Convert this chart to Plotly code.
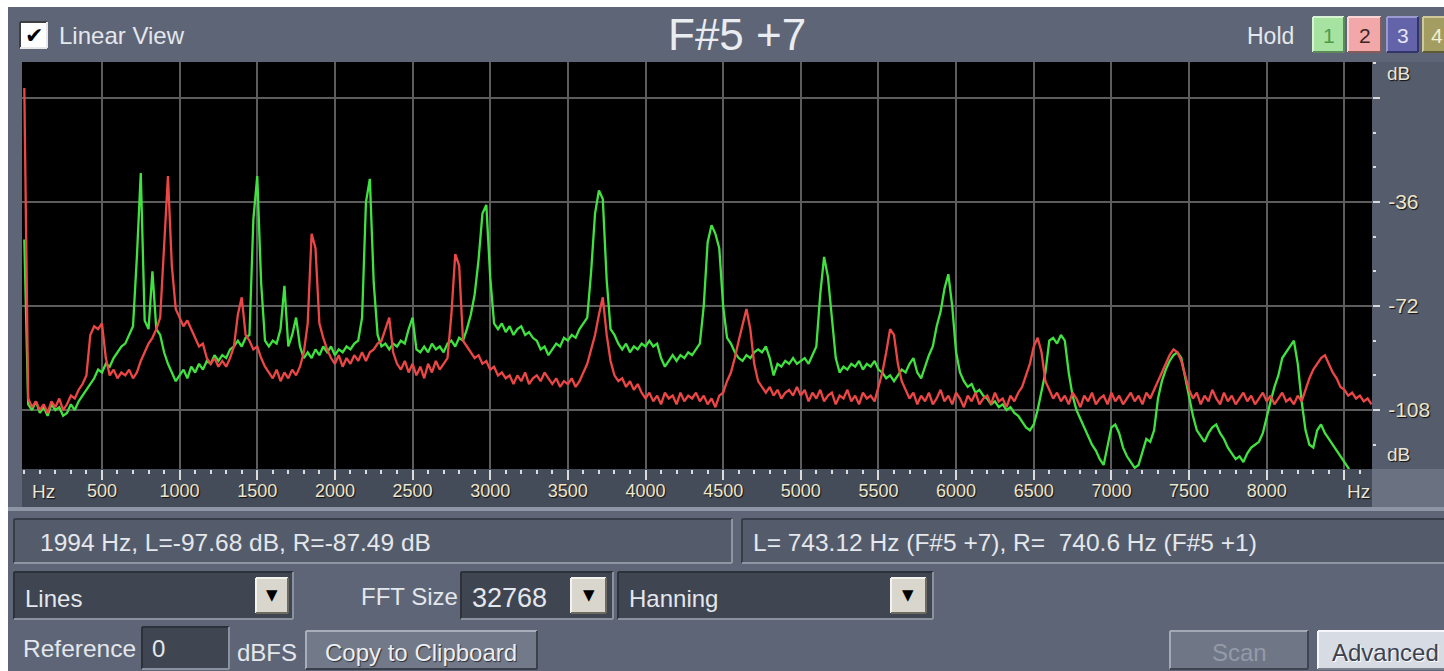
import numpy as np
import plotly.graph_objects as go

# ---------------------------------------------------------------------------
# Spectrum data: level in dB per 25 Hz bin, starting at 0 Hz
# ---------------------------------------------------------------------------
BIN_HZ = 25

left_db = [  # L channel (green)
    -49, -106, -108, -105, -109, -107, -110, -106, -108, -107, -110, -109, -106, -108, -105, -103, -101, -99, -97, -94,
    -95, -92, -93, -90, -88, -86, -85, -82, -79, -55, -26, -77, -80, -60, -80, -82, -88, -92, -95, -98,
    -96, -94, -97, -93, -95, -92, -94, -91, -92, -89, -91, -89, -90, -87, -86, -84, -86, -83, -82, -42,
    -27, -64, -84, -86, -84, -85, -80, -65, -86, -82, -76, -86, -90, -88, -90, -87, -89, -86, -88, -86,
    -89, -87, -88, -86, -87, -85, -84, -76, -36, -28, -64, -82, -86, -85, -87, -85, -86, -84, -85, -80,
    -76, -87, -88, -86, -88, -85, -87, -86, -88, -85, -84, -86, -83, -84, -80, -75, -68, -56, -40, -37,
    -62, -78, -80, -78, -81, -79, -82, -80, -79, -82, -81, -83, -84, -87, -86, -89, -87, -85, -86, -83,
    -84, -82, -83, -80, -78, -76, -60, -40, -32, -35, -63, -80, -82, -85, -87, -85, -88, -86, -87, -85,
    -86, -84, -86, -85, -90, -93, -91, -89, -91, -89, -90, -88, -89, -87, -85, -72, -50, -44, -47, -52,
    -72, -83, -85, -88, -90, -91, -89, -90, -88, -87, -88, -86, -90, -96, -92, -93, -91, -92, -90, -92,
    -91, -90, -92, -89, -86, -68, -55, -62, -75, -90, -95, -93, -94, -92, -93, -91, -94, -92, -93, -91,
    -94, -95, -97, -96, -98, -96, -94, -95, -92, -90, -95, -97, -93, -89, -86, -79, -74, -66, -61, -72,
    -88, -95, -98, -100, -99, -102, -101, -103, -104, -106, -105, -107, -106, -108, -107, -109, -110, -112, -114, -115,
    -113, -108, -101, -95, -84, -83, -85, -82, -84, -95, -103, -108, -111, -114, -117, -120, -122, -125, -127, -120,
    -114, -113, -116, -121, -124, -126, -128, -127, -122, -118, -119, -115, -104, -98, -94, -91, -89, -88, -90, -97,
    -104, -110, -115, -117, -119, -116, -114, -113, -116, -118, -121, -123, -125, -124, -126, -123, -121, -120, -119, -116,
    -110, -105, -100, -96, -90, -88, -86, -84, -92, -105, -115, -120, -121, -115, -113, -116, -118, -120, -122, -124,
    -126, -128, -131, -134, -136, -137, -138, -139,
]

right_db = [  # R channel (red)
    3.5, -104, -107, -105, -108, -106, -109, -105, -107, -104, -108, -106, -103, -104, -101, -99, -96, -82, -79, -80,
    -78, -90, -96, -94, -97, -95, -96, -94, -97, -95, -91, -88, -85, -83, -80, -76, -50, -27, -58, -73,
    -76, -79, -77, -80, -83, -86, -85, -90, -92, -90, -93, -91, -93, -90, -86, -75, -69, -82, -84, -87,
    -86, -90, -93, -95, -97, -94, -98, -95, -97, -94, -96, -93, -88, -78, -47, -52, -78, -83, -87, -90,
    -92, -89, -93, -90, -92, -89, -91, -88, -91, -88, -87, -85, -84, -80, -76, -88, -92, -94, -91, -95,
    -92, -96, -93, -97, -92, -95, -91, -94, -92, -90, -75, -54, -58, -84, -86, -88, -90, -89, -92, -91,
    -94, -93, -96, -95, -97, -96, -99, -96, -98, -95, -99, -97, -96, -98, -95, -97, -99, -97, -100, -98,
    -99, -97, -100, -98, -95, -92, -87, -82, -75, -69, -82, -91, -96, -98, -97, -100, -98, -101, -99, -102,
    -104, -102, -105, -103, -106, -102, -104, -103, -106, -102, -105, -103, -104, -102, -105, -103, -106, -104, -107, -103,
    -102, -98, -95, -90, -84, -78, -73, -80, -92, -98, -100, -102, -100, -103, -101, -104, -102, -101, -103, -100,
    -103, -101, -105, -102, -104, -101, -105, -103, -102, -106, -103, -104, -101, -105, -103, -106, -102, -104, -103, -105,
    -100, -95, -88, -80, -82, -92, -98, -101, -104, -102, -106, -103, -105, -102, -106, -104, -101, -105, -103, -106,
    -102, -104, -107, -103, -105, -102, -106, -104, -103, -106, -102, -105, -104, -107, -103, -105, -102, -100, -96, -92,
    -86, -83, -88, -98, -101, -104, -102, -105, -103, -106, -102, -104, -107, -103, -105, -102, -106, -104, -103, -106,
    -102, -105, -103, -106, -104, -102, -105, -103, -106, -102, -104, -101, -98, -95, -92, -89, -87, -88, -91, -96,
    -101, -104, -102, -106, -103, -105, -101, -104, -106, -102, -105, -103, -106, -104, -102, -105, -103, -106, -104, -102,
    -105, -103, -106, -104, -102, -105, -104, -106, -103, -105, -101, -97, -94, -92, -90, -89, -92, -95, -97, -100,
    -101, -103, -102, -104, -103, -105, -104, -106,
]

freq_left = np.arange(len(left_db)) * BIN_HZ
freq_right = np.arange(len(right_db)) * BIN_HZ

x_ticks = [500, 1000, 1500, 2000, 2500, 3000, 3500, 4000, 4500,
           5000, 5500, 6000, 6500, 7000, 7500, 8000, 8500]
x_ticklabels = ["500", "1000", "1500", "2000", "2500", "3000", "3500", "4000", "4500",
                "5000", "5500", "6000", "6500", "7000", "7500", "8000", ""]
y_ticks = [0, -36, -72, -108]
y_ticklabels = ["", "-36", "-72", "-108"]

# ---------------------------------------------------------------------------
# Window geometry (pixels) and helpers for paper coordinates
# ---------------------------------------------------------------------------
W, H = 1444, 671
PLOT_L, PLOT_R, PLOT_T, PLOT_B = 22, 1372, 62, 469
FONT = "Liberation Sans, Arial, sans-serif"
PANEL = "#5d6576"
UI_SIZE = 24


def px(x):
    return x / W


def py(y):
    return 1 - y / H


shapes = []
annotations = []


def rect(x0, y0, x1, y1, fill, line_color=None, lw=0):
    shapes.append(dict(type="rect", xref="paper", yref="paper", layer="below",
                       x0=px(x0), x1=px(x1), y0=py(y1), y1=py(y0),
                       fillcolor=fill,
                       line=dict(width=lw, color=line_color or fill)))


def seg(x0, y0, x1, y1, color, lw=2):
    shapes.append(dict(type="line", xref="paper", yref="paper", layer="below",
                       x0=px(x0), x1=px(x1), y0=py(y0), y1=py(y1),
                       line=dict(width=lw, color=color)))


def bevel(x0, y0, x1, y1, fill, tl, br, lw=2):
    rect(x0, y0, x1, y1, fill)
    seg(x0, y0, x1, y0, tl, lw)
    seg(x0, y0, x0, y1, tl, lw)
    seg(x0, y1, x1, y1, br, lw)
    seg(x1, y0, x1, y1, br, lw)


def text(x, y, s, size=UI_SIZE, color="#e4e7ec", anchor="left", shadow=None, family=FONT):
    font = dict(family=family, size=size, color=color)
    if shadow:
        font["shadow"] = shadow
    annotations.append(dict(xref="paper", yref="paper", x=px(x), y=py(y),
                            text=s, showarrow=False, xanchor=anchor,
                            yanchor="middle", font=font))


# white page margin around the application window
rect(0, 0, W, 7, "#ffffff")
rect(0, 0, 8, H, "#ffffff")

# ---------------------------------------------------------------------------
# Header: checkbox, note readout and hold buttons
# ---------------------------------------------------------------------------
bevel(20, 22, 47, 48, "#ffffff", "#404040", "#e8e8e8")
text(33.5, 36, "✔", size=22, color="#000000", anchor="center", family="DejaVu Sans")
text(57, 35, "Linear View", size=24)
text(737, 34, "F#5 +7", size=44, color="#e9ecf0", anchor="center")
text(1296, 36, "Hold", size=23, anchor="right")

hold_buttons = [
    (1313, 1344, "#a6e3a0", "#d6f4d2", "#5c8a58", "1", "#4f9a4a"),
    (1348, 1381, "#f2a8a8", "#fbd6d6", "#8a5a5a", "2", "#3a2626"),
    (1387, 1418, "#6363aa", "#9a9ad0", "#34346a", "3", "#e4e4f6"),
    (1423, 1450, "#a39d62", "#cfc99a", "#5e5a34", "4", "#f2eed2"),
]
for x0, x1, fill, tl, br, lab, col in hold_buttons:
    bevel(x0, 17, x1, 52, fill, tl, br)
    text((x0 + x1) / 2, 36, lab, size=21, color=col, anchor="center")

# ---------------------------------------------------------------------------
# Frames around the spectrum: dB scale strip and frequency strip
# ---------------------------------------------------------------------------
rect(PLOT_R, PLOT_T, W, PLOT_B, "#555d6c")
rect(PLOT_L, PLOT_B, PLOT_R, 507, "#454c59")
rect(PLOT_R, PLOT_B, W, 507, "#6a7282")
rect(8, 507, W, 511, "#8d96a4")

axis_font_shadow = "1px 1px 1px #101010"
text(1385, 73, "dB", size=19, color="#eae6da", shadow=axis_font_shadow)
text(1385, 454, "dB", size=19, color="#eae6da", shadow=axis_font_shadow)
text(30, 491, "Hz", size=19, color="#eae6da", shadow=axis_font_shadow)
text(1345, 491, "Hz", size=19, color="#eae6da", shadow=axis_font_shadow)

# ---------------------------------------------------------------------------
# Readouts and controls below the spectrum
# ---------------------------------------------------------------------------
box_fill, dark_edge, light_edge = "#545c6b", "#383e49", "#8e96a4"
bevel(14, 519, 732, 563, box_fill, dark_edge, light_edge)
text(38, 542, "1994 Hz, L=-97.68 dB, R=-87.49 dB", size=24.5)
bevel(742, 519, 1452, 563, box_fill, dark_edge, light_edge)
text(751, 542, "L= 743.12 Hz (F#5 +7), R=  740.6 Hz (F#5 +1)", size=24.5)

combo_fill = "#3f4551"
btn_face = "#d9d6cd"


def combo(x0, x1, label, bx0, bx1, size=UI_SIZE):
    bevel(x0, 572, x1, 619, combo_fill, "#2c313a", "#8a92a0")
    bevel(bx0, 578, bx1, 613, btn_face, "#f4f2ec", "#6d6a62")
    text((bx0 + bx1) / 2, 595, "▼", size=15, color="#000000", anchor="center",
         family="DejaVu Sans")
    text(x0 + 9, 598, label, size=size)


combo(14, 293, "Lines", 256, 288)
text(359, 596, "FFT Size", size=24)
combo(461, 613, "32768", 571, 606, size=27)
combo(618, 933, "Hanning", 891, 926)

text(21, 648, "Reference", size=24.5)
bevel(142, 627, 229, 669, combo_fill, "#2c313a", "#8a92a0")
text(150, 648, "0", size=24)
text(235, 652, "dBFS", size=24)

bevel(306, 631, 537, 669, "#727a89", "#a8afba", "#3a404b")
text(421, 652, "Copy to Clipboard", size=24, color="#eceef2", anchor="center",
     shadow="1px 1px 1px #2a2f38")
bevel(1170, 631, 1308, 669, "#6f7786", "#a2a9b4", "#3f4550")
text(1239, 652, "Scan", size=24, color="#939ba8", anchor="center")
bevel(1318, 631, 1452, 669, "#d7dce4", "#f6f8fb", "#7a808c")
text(1385, 652, "Advanced", size=24, color="#3c4250", anchor="center",
     shadow="1px 1px 0px #ffffff")

# ---------------------------------------------------------------------------
# Figure
# ---------------------------------------------------------------------------
fig = go.Figure()
fig.add_trace(go.Scatter(x=freq_left, y=left_db, mode="lines", name="L",
                         line=dict(color="#3fe23f", width=2.3), hoverinfo="skip"))
fig.add_trace(go.Scatter(x=freq_right, y=right_db, mode="lines", name="R",
                         line=dict(color="#ec4646", width=2.3), hoverinfo="skip"))

tick_font = dict(family=FONT, size=18, color="#ece5cc", shadow=axis_font_shadow)

fig.update_layout(
    width=W, height=H,
    margin=dict(l=0, r=0, t=0, b=0),
    paper_bgcolor=PANEL,
    plot_bgcolor="#000000",
    showlegend=False,
    shapes=shapes,
    annotations=annotations,
    xaxis=dict(
        domain=[px(PLOT_L), px(PLOT_R)],
        range=[-14.8, 8678],
        tickmode="array", tickvals=x_ticks, ticktext=x_ticklabels,
        showgrid=True, gridcolor="#5c5c5c", gridwidth=2,
        zeroline=False, showline=False,
        ticks="outside", ticklen=10, tickwidth=2, tickcolor="#dcdcdc",
        tickfont=tick_font, ticklabelstandoff=-5,
        minor=dict(tickmode="linear", tick0=0, dtick=100, ticks="outside",
                   ticklen=4, tickwidth=2, tickcolor="#dcdcdc", showgrid=False),
        fixedrange=True,
    ),
    yaxis=dict(
        domain=[py(PLOT_B), py(PLOT_T)],
        range=[-128.4, 12.46],
        side="right",
        tickmode="array", tickvals=y_ticks, ticktext=y_ticklabels,
        showgrid=True, gridcolor="#5c5c5c", gridwidth=2,
        zeroline=False, showline=False,
        ticks="outside", ticklen=7, tickwidth=2, tickcolor="#dcdcdc",
        tickfont=dict(family=FONT, size=21, color="#ece5cc", shadow=axis_font_shadow),
        ticklabelstandoff=4,
        minor=dict(tickmode="linear", tick0=0, dtick=12, ticks="outside",
                   ticklen=3, tickwidth=2, tickcolor="#dcdcdc", showgrid=False),
        fixedrange=True,
    ),
)

fig.write_html("out.html")
